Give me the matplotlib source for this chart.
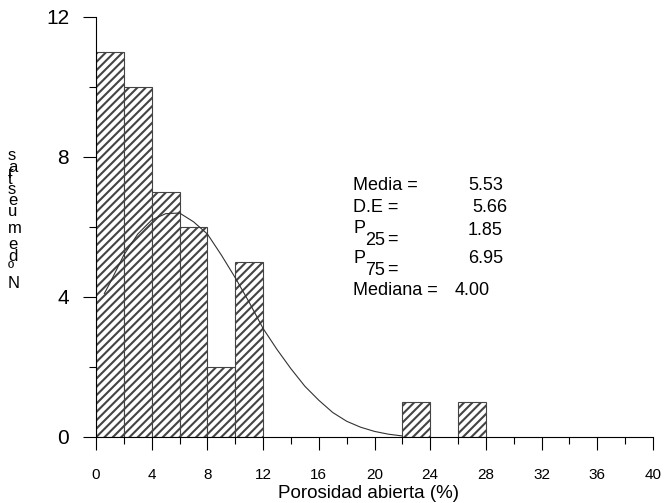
import matplotlib
matplotlib.use('Agg')
import matplotlib.pyplot as plt
from matplotlib.font_manager import FontProperties
from matplotlib.ticker import MultipleLocator

# histogram (bin start, count), bins are 2 units wide
bin_left = [0, 2, 4, 6, 8, 10, 22, 26]
counts = [11, 10, 7, 6, 2, 5, 1, 1]
bin_width = 2

# fitted curve
curve_x = [0.6, 1, 2, 3, 4, 5, 6, 7, 8, 9, 10, 11, 12, 13, 14, 15, 16, 17, 18, 19, 20, 21, 22]
curve_y = [4.1, 4.4, 5.2, 5.8, 6.2, 6.38, 6.4, 6.15, 5.8, 5.2, 4.55, 3.85, 3.1, 2.5, 1.95,
           1.45, 1.05, 0.7, 0.45, 0.28, 0.16, 0.08, 0.03]

stat_values = ['5.53', '5.66', '1.85', '6.95', '4.00']
ylabel = 'Nº de muestras'
xlabel = 'Porosidad abierta (%)'

FONT = 'Liberation Sans'
plt.rcParams['font.family'] = FONT
plt.rcParams['hatch.linewidth'] = 1.5

W, H = 665, 503
fig = plt.figure(figsize=(W / 100, H / 100), dpi=100)
ax = fig.add_axes([96 / W, 1 - 437 / H, (653 - 96) / W, (437 - 17) / H])


def px(x, y):
    # pixel position (from top-left) -> figure fraction
    return x / W, 1 - y / H


ax.bar(bin_left, counts, width=bin_width, align='edge', color='white',
       edgecolor='#444444', hatch='////', linewidth=0.8, zorder=2)
ax.plot(curve_x, curve_y, color='#333333', linewidth=0.8, zorder=3)

ax.set_xlim(0, 40)
ax.set_ylim(0, 12)
ax.xaxis.set_major_locator(MultipleLocator(4))
ax.xaxis.set_minor_locator(MultipleLocator(2))
ax.yaxis.set_major_locator(MultipleLocator(4))
ax.yaxis.set_minor_locator(MultipleLocator(2))
ax.tick_params(which='major', direction='out', length=9.4, width=0.8)
ax.tick_params(which='minor', direction='out', length=5, width=0.8)
ax.tick_params(axis='x', which='major', pad=13, labelsize=11)
ax.tick_params(axis='y', which='major', pad=10, labelsize=15)
for s in ['top', 'right']:
    ax.spines[s].set_visible(False)
for s in ['left', 'bottom']:
    ax.spines[s].set_linewidth(0.8)

fig.text(*px(368, 498), xlabel, fontsize=13.5, ha='center', va='baseline')

# y label: upright glyphs stacked upwards like in the original export
fp = FontProperties(family=FONT, size=12)
renderer = fig.canvas.get_renderer()
bar_w = renderer.get_text_width_height_descent('||', fp, ismath=False)[0]
y = 288
for ch in ylabel:
    fig.text(*px(8, y), ch, fontproperties=fp, ha='left', va='baseline')
    adv = renderer.get_text_width_height_descent('|' + ch + '|', fp, ismath=False)[0] - bar_w
    y -= adv * 1.2

# statistics box
fs = 13
fig.text(*px(353, 190), 'Media =', fontsize=fs, va='baseline')
fig.text(*px(353, 212), 'D.E =', fontsize=fs, va='baseline')
fig.text(*px(353, 233), 'P', fontsize=fs, va='baseline')
fig.text(*px(365, 245), '25', fontsize=fs, va='baseline')
fig.text(*px(387, 244), '=', fontsize=fs, va='baseline')
fig.text(*px(353, 263), 'P', fontsize=fs, va='baseline')
fig.text(*px(365, 275), '75', fontsize=fs, va='baseline')
fig.text(*px(387, 274), '=', fontsize=fs, va='baseline')
fig.text(*px(353, 295), 'Mediana =', fontsize=fs, va='baseline')
for xv, yv, v in zip([468, 472, 468, 468, 455], [190, 212, 235, 263, 295], stat_values):
    fig.text(*px(xv, yv), v, fontsize=fs, va='baseline')

fig.savefig('out.png', dpi=100)
